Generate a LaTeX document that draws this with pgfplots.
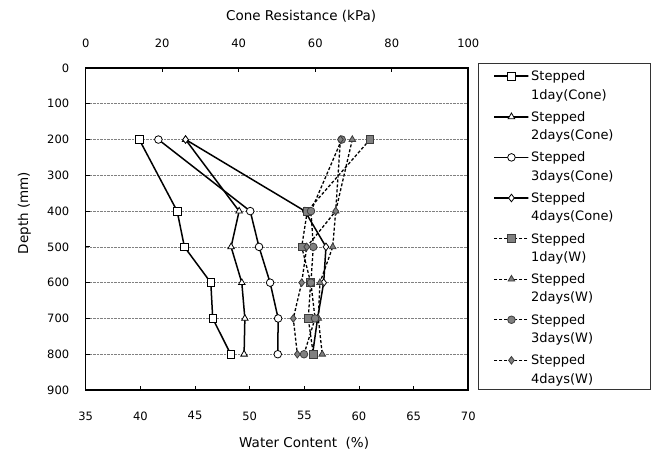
\documentclass[border=0pt]{standalone}
\usepackage{fontspec}
\setmainfont{DejaVu Sans}
\usepackage{pgfplots}
\pgfplotsset{compat=1.18}
\definecolor{wfill}{RGB}{128,128,128}
\definecolor{wdraw}{RGB}{60,60,60}
\newcommand{\tickfont}{\fontsize{11.5bp}{13bp}\selectfont}
\newcommand{\titlefont}{\fontsize{13.5bp}{16bp}\selectfont}
\newcommand{\legfont}{\fontsize{13bp}{18.3bp}\selectfont}
\newcommand{\lent}[2]{\begin{tabular}[b]{@{}p{102bp}@{}}#1\\#2\end{tabular}}
\pgfplotsset{
 base/.style={width=382.6bp,height=322bp,scale only axis,ymin=0,ymax=900,y dir=reverse,
   /pgf/number format/assume math mode=true},
 cone/.style={black,line width=1.5bp,mark size=3.8bp,
   mark options={fill=white,draw=black,line width=0.8bp,solid}},
 wat/.style={black,line width=1.3bp,dash pattern=on 3bp off 2bp,mark size=3.8bp,
   mark options={fill=wfill,draw=wdraw,line width=0.8bp,solid}},
}
\begin{document}
\begin{tikzpicture}
\useasboundingbox (-85.7bp,-62bp) rectangle (566.3bp,390bp);
% frame / water axis / grid
\begin{axis}[base,xmin=35,xmax=70,xtick={35,40,...,70},ytick={0,100,...,900},
  tick align=inside,xtick pos=left,ytick pos=left,
  major tick length=4bp,tick style={black,line width=0.8bp},
  axis line style={line width=1.6bp},
  ymajorgrids,grid style={densely dotted,gray,line width=0.6bp},
  xticklabel style={font=\tickfont,yshift=-18bp},
  yticklabel style={font=\tickfont,xshift=-13bp},
  xlabel={Water Content\ \ (\%)},
  xlabel style={font=\titlefont,at={(axis description cs:0.571,-0.165)},anchor=center},
  ylabel={Depth (mm)},
  ylabel style={font=\titlefont,at={(axis description cs:-0.16,0.55)},anchor=center}]
\end{axis}
% cone resistance axis (top)
\begin{axis}[base,xmin=0,xmax=100,axis x line*=top,axis y line=none,
  xtick={0,20,...,100},tick align=inside,major tick length=4bp,
  tick style={black,line width=0.8bp},axis line style={line width=1.6bp},
  xticklabel style={font=\tickfont,yshift=17bp},
  xlabel={Cone Resistance (kPa)},
  xlabel style={font=\titlefont,at={(axis description cs:0.563,1.161)},anchor=center}]
\addplot[cone,mark=square*] coordinates {(14.0,200) (23.9,400) (25.8,500) (32.7,600) (33.2,700) (37.9,800)};
\addplot[cone,mark=triangle*] coordinates {(26.1,200) (40.1,400) (38.0,500) (40.8,600) (41.6,700) (41.4,800)};
\addplot[cone,mark=*] coordinates {(19.0,200) (43.0,400) (45.3,500) (48.2,600) (50.3,700) (50.2,800)};
\addplot[cone,mark=diamond*] coordinates {(26.1,200) (57.3,400) (62.8,500) (62.2,600) (60.6,700) (59.3,800)};
\end{axis}
% water content series + legend
\begin{axis}[base,xmin=35,xmax=70,hide axis,
  legend image code/.code={\useasboundingbox (0bp,22.8bp) rectangle (34bp,22.8bp);
    \draw[mark repeat=2,mark phase=2,#1] plot coordinates {(0bp,22.8bp) (17bp,22.8bp) (34bp,22.8bp)};},
  legend style={font=\legfont,draw=black!80,line width=0.8bp,
    at={(rel axis cs:1,1)},anchor=north west,xshift=9.5bp,yshift=5.5bp,
    row sep=4bp,inner xsep=15.5bp,inner ysep=3bp,
    cells={anchor=base west,inner ysep=0.5bp,inner xsep=2bp}}]
\addlegendimage{cone,mark=square*}\addlegendentry{\lent{Stepped}{1day(Cone)}}
\addlegendimage{cone,mark=triangle*}\addlegendentry{\lent{Stepped}{2days(Cone)}}
\addlegendimage{cone,mark=*}\addlegendentry{\lent{Stepped}{3days(Cone)}}
\addlegendimage{cone,mark=diamond*}\addlegendentry{\lent{Stepped}{4days(Cone)}}
\addplot[wat,mark=square*] coordinates {(61.0,200) (55.27,400) (54.76,500) (55.58,600) (55.36,700) (55.82,800)};
\addlegendentry{\lent{Stepped}{1day(W)}}
\addplot[wat,mark=triangle*] coordinates {(59.39,200) (57.87,400) (57.6,500) (56.43,600) (56.28,700) (56.64,800)};
\addlegendentry{\lent{Stepped}{2days(W)}}
\addplot[wat,mark=*] coordinates {(58.42,200) (55.61,400) (55.82,500) (55.6,600) (55.98,700) (54.97,800)};
\addlegendentry{\lent{Stepped}{3days(W)}}
\addplot[wat,mark=diamond*] coordinates {(58.3,200) (57.87,400) (55.22,500) (54.76,600) (53.99,700) (54.36,800)};
\addlegendentry{\lent{Stepped}{4days(W)}}
\end{axis}
\end{tikzpicture}
\end{document}
